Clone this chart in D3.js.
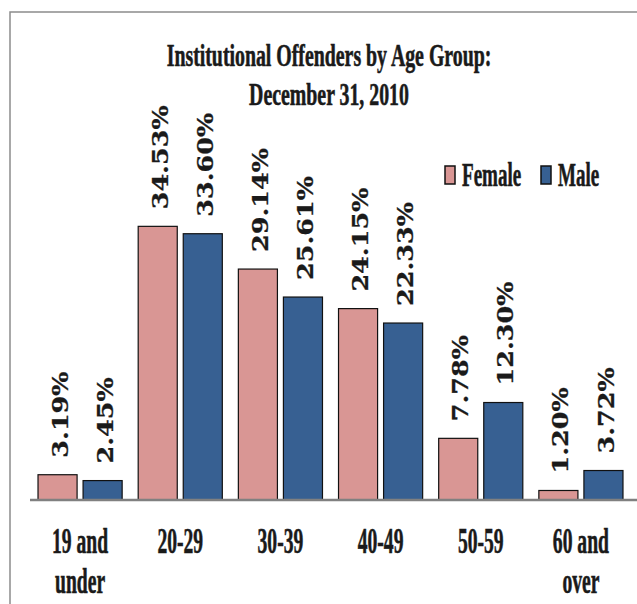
<!DOCTYPE html>
<html>
<head>
<meta charset="utf-8">
<script src="https://cdn.jsdelivr.net/npm/d3@7"></script>
<style>
  body { margin: 0; background: #fff; }
  text { font-family: "Liberation Serif", "Times New Roman", serif; font-weight: bold; fill: #1a1a1a; stroke: #1a1a1a; stroke-width: 0.6px; }
  .val { font-family: "DejaVu Serif", serif; stroke-width: 0.3px; }
</style>
</head>
<body>
<div id="chart"></div>
<script>
// age groups, each label split into lines
const categories = [['19 and', 'under'], ['20-29'], ['30-39'], ['40-49'], ['50-59'], ['60 and', 'over']];
const seriesNames = ['Female', 'Male'];
const female = [3.19, 34.53, 29.14, 24.15, 7.78, 1.20];
const male = [2.45, 33.60, 25.61, 22.33, 12.30, 3.72];
const titleLines = ['Institutional Offenders by Age Group:', 'December 31, 2010'];

const width = 637, height = 604;
const colors = { Female: '#D99694', Male: '#376092' };
const sx = 0.56; // the lettering is narrow, squeeze it

const svg = d3.select('#chart')
  .append('svg')
  .attr('width', width)
  .attr('height', height);

// frame, cut by the right and bottom edges
svg.append('rect')
  .attr('x', 10).attr('y', 12)
  .attr('width', 800).attr('height', 800)
  .attr('fill', 'none')
  .attr('stroke', '#8c8c8c')
  .attr('stroke-width', 1.5);

const keys = categories.map(d => d.join(' '));
const rows = keys.map((k, i) => ({ key: k, Female: female[i], Male: male[i] }));

const x0 = d3.scaleBand()
  .domain(keys)
  .range([30, 631])
  .padding(0);

const x1 = d3.scaleBand()
  .domain(seriesNames)
  .range([0, x0.bandwidth()])
  .paddingInner(0.133)
  .paddingOuter(0.178);

const y = d3.scaleLinear()
  .domain([0, 40])
  .range([500, 183]);

const groups = svg.selectAll('.group')
  .data(rows)
  .join('g')
    .attr('class', 'group')
    .attr('transform', d => `translate(${x0(d.key)},0)`);

groups.selectAll('rect')
  .data(d => seriesNames.map(s => ({ s, v: d[s] })))
  .join('rect')
    .attr('x', d => x1(d.s))
    .attr('y', d => y(d.v))
    .attr('width', x1.bandwidth())
    .attr('height', d => y(0) - y(d.v))
    .attr('fill', d => colors[d.s])
    .attr('stroke', '#111')
    .attr('stroke-width', 1.2);

groups.selectAll('.val')
  .data(d => seriesNames.map(s => ({ s, v: d[s] })))
  .join('text')
    .attr('class', 'val')
    .attr('transform', d => `translate(${x1(d.s) + x1.bandwidth() / 2 + 2},${y(d.v) - 17}) scale(0.88,1) rotate(-90)`)
    .attr('dy', '0.36em')
    .style('font-size', '25.5px')
    .text(d => d3.format('.2f')(d.v) + '%');

// baseline
svg.append('line')
  .attr('x1', 30).attr('x2', width)
  .attr('y1', y(0)).attr('y2', y(0))
  .attr('stroke', '#808080')
  .attr('stroke-width', 2.5);

// category labels
svg.selectAll('.cat')
  .data(categories)
  .join('g')
    .attr('class', 'cat')
    .attr('transform', (d, i) => `translate(${x0(keys[i]) + x0.bandwidth() / 2},553) scale(${sx},1)`)
  .selectAll('text')
  .data(d => d)
  .join('text')
    .attr('y', (d, i) => i * 40)
    .attr('text-anchor', 'middle')
    .style('font-size', '35px')
    .text(d => d);

// title
svg.selectAll('.title')
  .data(titleLines)
  .join('text')
    .attr('class', 'title')
    .attr('transform', (d, i) => `translate(329,${66 + i * 39}) scale(0.62,1)`)
    .attr('text-anchor', 'middle')
    .style('font-size', '32px')
    .text(d => d);

// legend
const legend = svg.selectAll('.legend')
  .data(seriesNames)
  .join('g')
    .attr('class', 'legend')
    .attr('transform', (d, i) => `translate(${445 + i * 96},166)`);

legend.append('rect')
  .attr('width', 10).attr('height', 18)
  .attr('fill', d => colors[d])
  .attr('stroke', '#111')
  .attr('stroke-width', 1.5);

legend.append('text')
  .attr('transform', `translate(17,20) scale(${sx},1)`)
  .style('font-size', '34px')
  .text(d => d);
</script>
</body>
</html>
